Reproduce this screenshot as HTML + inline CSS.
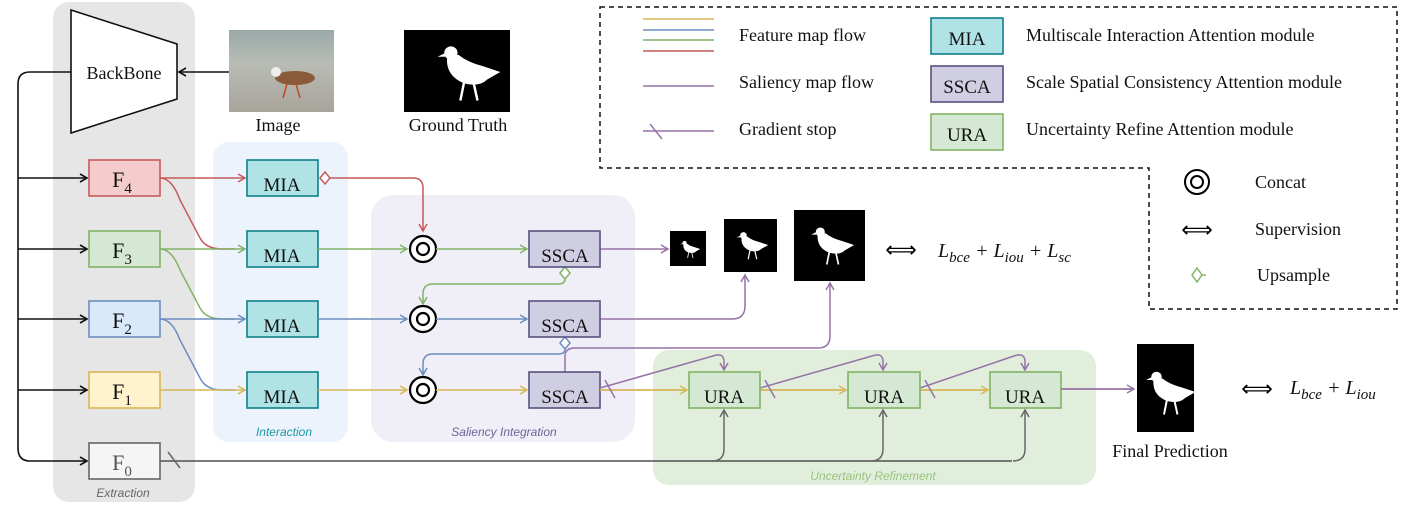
<!DOCTYPE html>
<html><head><meta charset="utf-8"><style>
html,body{margin:0;padding:0;background:#fff;}
svg{display:block;}
.t{font-family:"Liberation Serif",serif;fill:#111;}
.p{font-family:"Liberation Sans",sans-serif;font-style:italic;font-size:12px;}
</style></head><body>
<svg width="1411" height="516" viewBox="0 0 1411 516" xmlns="http://www.w3.org/2000/svg">
<defs>
<marker id="ak" markerWidth="10" markerHeight="10" refX="8" refY="5" orient="auto" markerUnits="userSpaceOnUse"><path d="M1,1 L8,5 L1,9" fill="none" stroke="#111" stroke-width="1.6"/></marker>
<marker id="ar" markerWidth="10" markerHeight="10" refX="8" refY="5" orient="auto" markerUnits="userSpaceOnUse"><path d="M1,1 L8,5 L1,9" fill="none" stroke="#c55a5a" stroke-width="1.5"/></marker>
<marker id="ag" markerWidth="10" markerHeight="10" refX="8" refY="5" orient="auto" markerUnits="userSpaceOnUse"><path d="M1,1 L8,5 L1,9" fill="none" stroke="#82b366" stroke-width="1.5"/></marker>
<marker id="ab" markerWidth="10" markerHeight="10" refX="8" refY="5" orient="auto" markerUnits="userSpaceOnUse"><path d="M1,1 L8,5 L1,9" fill="none" stroke="#6c8ebf" stroke-width="1.5"/></marker>
<marker id="ay" markerWidth="10" markerHeight="10" refX="8" refY="5" orient="auto" markerUnits="userSpaceOnUse"><path d="M1,1 L8,5 L1,9" fill="none" stroke="#d6b656" stroke-width="1.5"/></marker>
<marker id="ap" markerWidth="10" markerHeight="10" refX="8" refY="5" orient="auto" markerUnits="userSpaceOnUse"><path d="M1,1 L8,5 L1,9" fill="none" stroke="#9673a6" stroke-width="1.5"/></marker>
<marker id="aa" markerWidth="10" markerHeight="10" refX="8" refY="5" orient="auto" markerUnits="userSpaceOnUse"><path d="M1,1 L8,5 L1,9" fill="none" stroke="#666" stroke-width="1.5"/></marker>
<g id="bird">
<circle cx="-9" cy="-10" r="3.5" fill="#fff"/>
<path d="M-12,-10 L-16,-8 L-12,-8 Z" fill="#fff"/>
<path d="M-11,-8 Q-12,2 -2,6 Q6,8 10,4 L17,0 L8,-3 Q0,-5 -5,-9 Z" fill="#fff"/>
<path d="M-2,5 L-4,15 M3,6 L5,15" stroke="#fff" stroke-width="1.3"/>
</g>
</defs>

<!-- panels -->
<rect x="53" y="2" width="142" height="500" rx="16" fill="#e6e6e6"/>
<rect x="213" y="142" width="135" height="300" rx="16" fill="#edf3fd"/>
<rect x="371" y="195" width="264" height="247" rx="22" fill="#f0eef6"/>
<rect x="653" y="350" width="443" height="135" rx="16" fill="#e2eedc"/>
<text class="p" x="123" y="497" text-anchor="middle" fill="#666">Extraction</text>
<text class="p" x="284" y="436" text-anchor="middle" fill="#1a9ba3">Interaction</text>
<text class="p" x="504" y="436" text-anchor="middle" fill="#6b6699">Saliency Integration</text>
<text class="p" x="873" y="480" text-anchor="middle" fill="#97c47e">Uncertainty Refinement</text>

<!-- backbone -->
<path d="M71,10 L177,44 L177,99 L71,133 Z" fill="#fff" stroke="#111" stroke-width="1.6"/>
<text class="t" x="124" y="79" font-size="18" text-anchor="middle">BackBone</text>
<!-- image -->
<defs><linearGradient id="sea" x1="0" y1="0" x2="0" y2="1"><stop offset="0" stop-color="#9aa9a8"/><stop offset="0.4" stop-color="#b8bcb5"/><stop offset="1" stop-color="#a8a49c"/></linearGradient></defs>
<rect x="229" y="30" width="105" height="82" fill="url(#sea)"/>
<ellipse cx="295" cy="78" rx="20" ry="7" fill="#8a5a3a"/>
<circle cx="276" cy="72" r="5" fill="#eee"/>
<path d="M287,84 l-4,14 M296,84 l4,14" stroke="#c04a20" stroke-width="1.5"/>
<text class="t" x="278" y="131" font-size="18" text-anchor="middle">Image</text>
<path d="M229,72 L179,72" stroke="#111" stroke-width="1.6" marker-end="url(#ak)"/>
<!-- GT -->
<rect x="404" y="30" width="106" height="82" fill="#000"/>
<use href="#bird" transform="translate(468,72) scale(1.9)"/>
<text class="t" x="458" y="131" font-size="18" text-anchor="middle">Ground Truth</text>

<!-- left bus -->
<path d="M71,72 L30,72 Q18,72 18,84 L18,448 Q18,461 30,461 L87,461" fill="none" stroke="#111" stroke-width="1.6" marker-end="url(#ak)"/>
<path d="M18,178 L87,178" fill="none" stroke="#111" stroke-width="1.6" marker-end="url(#ak)"/>
<path d="M18,249 L87,249" fill="none" stroke="#111" stroke-width="1.6" marker-end="url(#ak)"/>
<path d="M18,319 L87,319" fill="none" stroke="#111" stroke-width="1.6" marker-end="url(#ak)"/>
<path d="M18,390 L87,390" fill="none" stroke="#111" stroke-width="1.6" marker-end="url(#ak)"/>

<!-- F boxes -->
<rect x="89" y="160" width="71" height="36" fill="#f4cccc" stroke="#c85a5a" stroke-width="1.6"/>
<rect x="89" y="231" width="71" height="36" fill="#d5e8d4" stroke="#82b366" stroke-width="1.6"/>
<rect x="89" y="301" width="71" height="36" fill="#dae8fc" stroke="#6c8ebf" stroke-width="1.6"/>
<rect x="89" y="372" width="71" height="36" fill="#fff2cc" stroke="#d6b656" stroke-width="1.6"/>
<rect x="89" y="443" width="71" height="36" fill="#f5f5f5" stroke="#666" stroke-width="1.6"/>
<g class="t" font-size="22" text-anchor="middle">
<text x="122" y="187">F<tspan font-size="15" dy="6">4</tspan></text>
<text x="122" y="258">F<tspan font-size="15" dy="6">3</tspan></text>
<text x="122" y="328">F<tspan font-size="15" dy="6">2</tspan></text>
<text x="122" y="399">F<tspan font-size="15" dy="6">1</tspan></text>
<text x="122" y="470" fill="#555">F<tspan font-size="15" dy="6">0</tspan></text>
</g>

<!-- F to MIA -->
<path d="M160,178 L245,178" stroke="#c55a5a" stroke-width="1.5" fill="none" marker-end="url(#ar)"/>
<path d="M160,178 Q172,178 180,200 L200,238 Q206,249 222,249 L235,249" stroke="#c55a5a" stroke-width="1.5" fill="none"/>
<path d="M160,249 L245,249" stroke="#82b366" stroke-width="1.5" fill="none" marker-end="url(#ag)"/>
<path d="M160,249 Q172,249 180,270 L200,308 Q206,319 222,319 L235,319" stroke="#82b366" stroke-width="1.5" fill="none"/>
<path d="M160,319 L245,319" stroke="#6c8ebf" stroke-width="1.5" fill="none" marker-end="url(#ab)"/>
<path d="M160,319 Q172,319 180,340 L200,378 Q206,390 222,390 L235,390" stroke="#6c8ebf" stroke-width="1.5" fill="none"/>
<path d="M160,390 L245,390" stroke="#d6b656" stroke-width="1.5" fill="none" marker-end="url(#ay)"/>

<!-- MIA -->
<g fill="#b0e3e6" stroke="#0e8088" stroke-width="1.6">
<rect x="247" y="160" width="71" height="36"/><rect x="247" y="231" width="71" height="36"/>
<rect x="247" y="301" width="71" height="36"/><rect x="247" y="372" width="71" height="36"/>
</g>
<g class="t" font-size="19" text-anchor="middle">
<text x="282" y="191">MIA</text><text x="282" y="262">MIA</text><text x="282" y="332">MIA</text><text x="282" y="403">MIA</text>
</g>

<!-- red from MIA4 to concat -->
<path d="M320,178 L325,172 L330,178 L325,184 Z" fill="#fff" stroke="#c55a5a" stroke-width="1.5"/>
<path d="M330,178 L413,178 Q423,178 423,188 L423,231" stroke="#c55a5a" stroke-width="1.5" fill="none" marker-end="url(#ar)"/>
<path d="M318,249 L407,249" stroke="#82b366" stroke-width="1.5" fill="none" marker-end="url(#ag)"/>
<path d="M318,319 L407,319" stroke="#6c8ebf" stroke-width="1.5" fill="none" marker-end="url(#ab)"/>
<path d="M318,390 L407,390" stroke="#d6b656" stroke-width="1.5" fill="none" marker-end="url(#ay)"/>
<g fill="#fff" stroke="#000" stroke-width="2.2">
<circle cx="423" cy="249" r="13"/><circle cx="423" cy="249" r="6"/>
<circle cx="423" cy="319" r="13"/><circle cx="423" cy="319" r="6"/>
<circle cx="423" cy="390" r="13"/><circle cx="423" cy="390" r="6"/>
</g>
<path d="M436,249 L527,249" stroke="#82b366" stroke-width="1.5" fill="none" marker-end="url(#ag)"/>
<path d="M436,319 L527,319" stroke="#6c8ebf" stroke-width="1.5" fill="none" marker-end="url(#ab)"/>
<path d="M436,390 L527,390" stroke="#d6b656" stroke-width="1.5" fill="none" marker-end="url(#ay)"/>

<!-- upsample feedback -->
<path d="M565,267 L570,273 L565,279 L560,273 Z" fill="#fff" stroke="#82b366" stroke-width="1.5"/>
<path d="M565,279 Q565,284 558,284 L433,284 Q423,284 423,294 L423,304" stroke="#82b366" stroke-width="1.5" fill="none" marker-end="url(#ag)"/>
<path d="M565,337 L570,343 L565,349 L560,343 Z" fill="#fff" stroke="#6c8ebf" stroke-width="1.5"/>
<path d="M565,349 Q565,354 558,354 L433,354 Q423,354 423,364 L423,375" stroke="#6c8ebf" stroke-width="1.5" fill="none" marker-end="url(#ab)"/>

<!-- purple saliency lines -->
<path d="M600,249 L668,249" stroke="#9673a6" stroke-width="1.5" fill="none" marker-end="url(#ap)"/>
<path d="M600,319 L732,319 Q745,319 745,306 L745,275" stroke="#9673a6" stroke-width="1.5" fill="none" marker-end="url(#ap)"/>
<path d="M565,372 L565,356 Q565,348 575,348 L818,348 Q830,348 830,336 L830,283" stroke="#9673a6" stroke-width="1.5" fill="none" marker-end="url(#ap)"/>

<!-- SSCA -->
<g fill="#d0cee2" stroke="#56517e" stroke-width="1.6">
<rect x="529" y="231" width="71" height="36"/><rect x="529" y="301" width="71" height="36"/><rect x="529" y="372" width="71" height="36"/>
</g>
<g class="t" font-size="19" text-anchor="middle">
<text x="565" y="262">SSCA</text><text x="565" y="332">SSCA</text><text x="565" y="403">SSCA</text>
</g>

<!-- maps -->
<rect x="670" y="231" width="36" height="35" fill="#000"/>
<use href="#bird" transform="translate(690,249) scale(0.6)"/>
<rect x="724" y="219" width="53" height="53" fill="#000"/>
<use href="#bird" transform="translate(752,245) scale(0.95)"/>
<rect x="794" y="210" width="71" height="71" fill="#000"/>
<use href="#bird" transform="translate(832,245) scale(1.3)"/>
<text x="901" y="257" font-size="22" text-anchor="middle" font-family="DejaVu Sans,sans-serif">⟺</text>
<text class="t" x="938" y="257" font-size="20" font-style="italic">L<tspan font-size="15" dy="5">bce</tspan><tspan dy="-5"> + L</tspan><tspan font-size="15" dy="5">iou</tspan><tspan dy="-5"> + L</tspan><tspan font-size="15" dy="5">sc</tspan></text>

<!-- gray F0 line -->
<path d="M160,461 L1012,461" stroke="#666" stroke-width="1.8" fill="none"/>
<path d="M168,452 L180,468" stroke="#666" stroke-width="1.5"/>
<path d="M712,461 Q724,461 724,449 L724,410" stroke="#666" stroke-width="1.5" fill="none" marker-end="url(#aa)"/>
<path d="M871,461 Q883,461 883,449 L883,410" stroke="#666" stroke-width="1.5" fill="none" marker-end="url(#aa)"/>
<path d="M1013,461 Q1025,461 1025,449 L1025,410" stroke="#666" stroke-width="1.5" fill="none" marker-end="url(#aa)"/>

<!-- yellow URA chain -->
<path d="M600,390 L687,390" stroke="#d6b656" stroke-width="1.8" fill="none" marker-end="url(#ay)"/>
<path d="M760,390 L846,390" stroke="#d6b656" stroke-width="1.8" fill="none" marker-end="url(#ay)"/>
<path d="M920,390 L988,390" stroke="#d6b656" stroke-width="1.8" fill="none" marker-end="url(#ay)"/>
<path d="M600,388 L713,356 Q724,352 724,362 L724,370" stroke="#9673a6" stroke-width="1.5" fill="none" marker-end="url(#ap)"/>
<path d="M605,380 L615,398" stroke="#9673a6" stroke-width="1.5"/>
<path d="M760,388 L872,356 Q883,352 883,362 L883,370" stroke="#9673a6" stroke-width="1.5" fill="none" marker-end="url(#ap)"/>
<path d="M765,380 L775,398" stroke="#9673a6" stroke-width="1.5"/>
<path d="M920,388 L1014,356 Q1025,352 1025,362 L1025,370" stroke="#9673a6" stroke-width="1.5" fill="none" marker-end="url(#ap)"/>
<path d="M925,380 L935,398" stroke="#9673a6" stroke-width="1.5"/>

<!-- URA -->
<g fill="#d5e8d4" stroke="#82b366" stroke-width="1.6">
<rect x="689" y="372" width="71" height="36"/><rect x="848" y="372" width="72" height="36"/><rect x="990" y="372" width="71" height="36"/>
</g>
<g class="t" font-size="19" text-anchor="middle">
<text x="724" y="403">URA</text><text x="884" y="403">URA</text><text x="1025" y="403">URA</text>
</g>
<path d="M1061,389 L1134,389" stroke="#9673a6" stroke-width="1.8" fill="none" marker-end="url(#ap)"/>

<!-- final -->
<rect x="1137" y="344" width="57" height="88" fill="#000"/>
<use href="#bird" transform="translate(1170,392) scale(1.5)"/>
<text class="t" x="1170" y="457" font-size="18" text-anchor="middle">Final Prediction</text>
<text x="1257" y="396" font-size="22" text-anchor="middle" font-family="DejaVu Sans,sans-serif">⟺</text>
<text class="t" x="1290" y="394" font-size="20" font-style="italic">L<tspan font-size="15" dy="5">bce</tspan><tspan dy="-5"> + L</tspan><tspan font-size="15" dy="5">iou</tspan></text>

<!-- legend -->
<path d="M600,7 L1397,7 L1397,309 L1149,309 L1149,168 L600,168 Z" fill="none" stroke="#111" stroke-width="1.5" stroke-dasharray="5,4"/>
<path d="M643,19 L714,19" stroke="#d6b656" stroke-width="1.5"/>
<path d="M643,30 L714,30" stroke="#6c8ebf" stroke-width="1.5"/>
<path d="M643,40 L714,40" stroke="#82b366" stroke-width="1.5"/>
<path d="M643,51 L714,51" stroke="#c55a5a" stroke-width="1.5"/>
<path d="M643,86 L714,86" stroke="#9673a6" stroke-width="1.5"/>
<path d="M643,131 L714,131" stroke="#9673a6" stroke-width="1.5"/>
<path d="M650,124 L662,139" stroke="#9673a6" stroke-width="1.5"/>
<g class="t" font-size="18">
<text x="739" y="41">Feature map flow</text>
<text x="739" y="88">Saliency map flow</text>
<text x="739" y="135">Gradient stop</text>
<text x="1026" y="41">Multiscale Interaction Attention module</text>
<text x="1026" y="88">Scale Spatial Consistency Attention module</text>
<text x="1026" y="135">Uncertainty Refine Attention module</text>
<text x="1255" y="188">Concat</text>
<text x="1255" y="235">Supervision</text>
<text x="1257" y="281">Upsample</text>
</g>
<rect x="931" y="18" width="72" height="36" fill="#b0e3e6" stroke="#0e8088" stroke-width="1.6"/>
<rect x="931" y="66" width="72" height="36" fill="#d0cee2" stroke="#56517e" stroke-width="1.6"/>
<rect x="931" y="114" width="72" height="36" fill="#d5e8d4" stroke="#82b366" stroke-width="1.6"/>
<g class="t" font-size="19" text-anchor="middle">
<text x="967" y="45">MIA</text><text x="967" y="93">SSCA</text><text x="967" y="141">URA</text>
</g>
<circle cx="1197" cy="182" r="12" fill="#fff" stroke="#000" stroke-width="2"/>
<circle cx="1197" cy="182" r="6" fill="#fff" stroke="#000" stroke-width="2"/>
<text x="1197" y="237" font-size="22" text-anchor="middle" font-family="DejaVu Sans,sans-serif">⟺</text>
<path d="M1197,268 L1202,275 L1197,282 L1192,275 Z" fill="#fff" stroke="#82b366" stroke-width="1.5"/>
<path d="M1202,275 L1206,275" stroke="#82b366" stroke-width="1.5"/>
</svg>
</body></html>
